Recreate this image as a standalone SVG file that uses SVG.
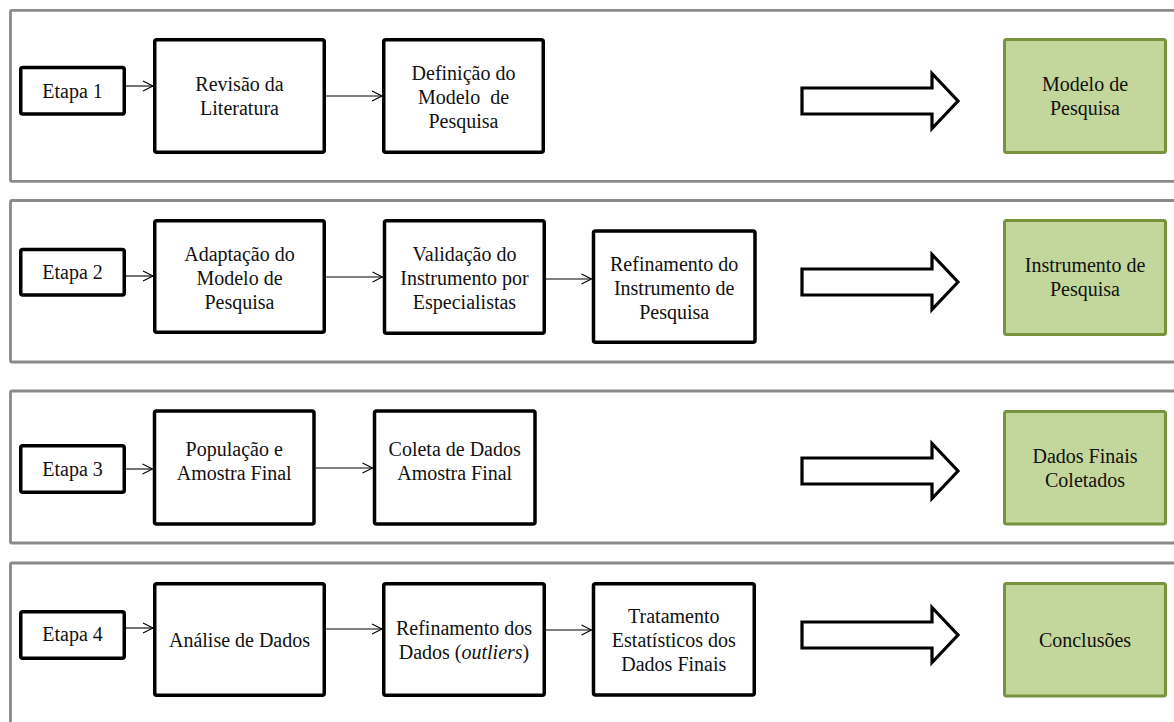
<svg xmlns="http://www.w3.org/2000/svg" width="1174" height="722" viewBox="0 0 1174 722">
  <style>
    .panel { fill: #ffffff; stroke: #8a8a8a; stroke-width: 2.8; }
    .box { fill: #ffffff; stroke: #000000; stroke-width: 3.5; }
    .result { fill: #c3d69b; stroke: #77933c; stroke-width: 3; }
    .block { fill: #ffffff; stroke: #000000; stroke-width: 3.2; stroke-linejoin: miter; }
    .conn { stroke: #000000; stroke-width: 1.1; fill: none; marker-end: url(#open); }
    text { font-family: "Liberation Serif", "Times New Roman", serif; font-size: 20px; fill: #111111; text-anchor: middle; }
    .it { font-style: italic; }
  </style>
  <defs>
    <marker id="open" markerUnits="userSpaceOnUse" markerWidth="12" markerHeight="12" refX="10" refY="5" orient="auto" overflow="visible">
      <path d="M0,0 L10,5 L0,10" fill="none" stroke="#000000" stroke-width="1.1"/>
    </marker>
  </defs>

  <!-- stage panels -->
  <g id="panels">
    <rect class="panel" x="10.5" y="10.3" width="1185" height="171" rx="1.5"/>
    <rect class="panel" x="10.5" y="200.5" width="1185" height="161.5" rx="1.5"/>
    <rect class="panel" x="10.5" y="391" width="1185" height="152" rx="1.5"/>
    <rect class="panel" x="10.5" y="563" width="1185" height="180" rx="1.5"/>
  </g>

  <!-- stage 1 -->
  <g id="etapa1">
    <rect class="box" x="20.75" y="67.5" width="103.5" height="46.5" rx="2"/>
    <text x="72.5" y="97.5">Etapa 1</text>
  </g>
  <g id="revisao">
    <rect class="box" x="154.75" y="39.75" width="169.5" height="112.5" rx="2"/>
    <text x="239.5" y="91">Revisão da</text>
    <text x="239.5" y="115">Literatura</text>
  </g>
  <g id="definicao">
    <rect class="box" x="383.75" y="39.75" width="159.5" height="112.5" rx="2"/>
    <text x="463.5" y="79.5">Definição do</text>
    <text x="463.5" y="103.5" xml:space="preserve">Modelo  de</text>
    <text x="463.5" y="127.5">Pesquisa</text>
  </g>
  <g id="bloco1">
    <path class="block" d="M802,88 L932,88 L932,73.5 L958,101 L932,128.5 L932,114 L802,114 Z"/>
  </g>
  <g id="modelo">
    <rect class="result" x="1004.5" y="39.5" width="161" height="113" rx="2"/>
    <text x="1085" y="91">Modelo de</text>
    <text x="1085" y="115">Pesquisa</text>
  </g>

  <!-- stage 2 -->
  <g id="etapa2">
    <rect class="box" x="20.75" y="249.5" width="103.5" height="45.5" rx="2"/>
    <text x="72.5" y="279">Etapa 2</text>
  </g>
  <g id="adaptacao">
    <rect class="box" x="154.75" y="220.75" width="169.5" height="111.5" rx="2"/>
    <text x="239.5" y="260.5">Adaptação do</text>
    <text x="239.5" y="284.5">Modelo de</text>
    <text x="239.5" y="308.5">Pesquisa</text>
  </g>
  <g id="validacao">
    <rect class="box" x="384.5" y="220.75" width="159.75" height="112.5" rx="2"/>
    <text x="464.5" y="261">Validação do</text>
    <text x="464.5" y="285">Instrumento por</text>
    <text x="464.5" y="309">Especialistas</text>
  </g>
  <g id="refinamento-instrumento">
    <rect class="box" x="593.5" y="231" width="161.5" height="111.25" rx="2"/>
    <text x="674.2" y="270.5">Refinamento do</text>
    <text x="674.2" y="294.5">Instrumento de</text>
    <text x="674.2" y="318.5">Pesquisa</text>
  </g>
  <g id="bloco2">
    <path class="block" d="M802,269 L932,269 L932,254.5 L958,282 L932,309.5 L932,295 L802,295 Z"/>
  </g>
  <g id="instrumento">
    <rect class="result" x="1004.5" y="220.5" width="161" height="114" rx="2"/>
    <text x="1085" y="272">Instrumento de</text>
    <text x="1085" y="296">Pesquisa</text>
  </g>

  <!-- stage 3 -->
  <g id="etapa3">
    <rect class="box" x="20.75" y="445.75" width="103.5" height="46.5" rx="2"/>
    <text x="72.5" y="475.5">Etapa 3</text>
  </g>
  <g id="populacao">
    <rect class="box" x="154.5" y="411" width="159.5" height="113" rx="2"/>
    <text x="234.2" y="455.5">População e</text>
    <text x="234.2" y="479.5">Amostra Final</text>
  </g>
  <g id="coleta">
    <rect class="box" x="374.5" y="411" width="160.5" height="113" rx="2"/>
    <text x="454.7" y="455.5">Coleta de Dados</text>
    <text x="454.7" y="479.5">Amostra Final</text>
  </g>
  <g id="bloco3">
    <path class="block" d="M802,458 L932,458 L932,443.5 L958,471 L932,498.5 L932,484 L802,484 Z"/>
  </g>
  <g id="dados-finais">
    <rect class="result" x="1004.5" y="411.5" width="161" height="112.5" rx="2"/>
    <text x="1085" y="463">Dados Finais</text>
    <text x="1085" y="487">Coletados</text>
  </g>

  <!-- stage 4 -->
  <g id="etapa4">
    <rect class="box" x="20.75" y="611.75" width="103.5" height="46.5" rx="2"/>
    <text x="72.5" y="641">Etapa 4</text>
  </g>
  <g id="analise">
    <rect class="box" x="154.75" y="583.75" width="169.5" height="111.5" rx="2"/>
    <text x="239.5" y="646.5">Análise de Dados</text>
  </g>
  <g id="refinamento-dados">
    <rect class="box" x="383.75" y="583.75" width="160.5" height="111.5" rx="2"/>
    <text x="464" y="634.5">Refinamento dos</text>
    <text x="464" y="658.5">Dados (<tspan class="it">outliers</tspan>)</text>
  </g>
  <g id="tratamento">
    <rect class="box" x="593.5" y="583.75" width="160.75" height="111.25" rx="2"/>
    <text x="673.8" y="622.5">Tratamento</text>
    <text x="673.8" y="646.5">Estatísticos dos</text>
    <text x="673.8" y="670.5">Dados Finais</text>
  </g>
  <g id="bloco4">
    <path class="block" d="M802,622 L932,622 L932,607.5 L958,635 L932,662.5 L932,648 L802,648 Z"/>
  </g>
  <g id="conclusoes">
    <rect class="result" x="1004.5" y="583.5" width="161" height="112.5" rx="2"/>
    <text x="1085" y="646.5">Conclusões</text>
  </g>

  <!-- connectors -->
  <g id="connectors">
    <line class="conn" x1="126" y1="86" x2="153" y2="86"/>
    <line class="conn" x1="326" y1="96" x2="382" y2="96"/>
    <line class="conn" x1="126" y1="276" x2="153" y2="276"/>
    <line class="conn" x1="326" y1="277" x2="382.5" y2="277"/>
    <line class="conn" x1="546" y1="279" x2="591.5" y2="279"/>
    <line class="conn" x1="126" y1="469" x2="152.5" y2="469"/>
    <line class="conn" x1="315.7" y1="468" x2="372.5" y2="468"/>
    <line class="conn" x1="126" y1="628" x2="153" y2="628"/>
    <line class="conn" x1="326" y1="629" x2="382" y2="629"/>
    <line class="conn" x1="546" y1="630" x2="591.5" y2="630"/>
  </g>
</svg>
